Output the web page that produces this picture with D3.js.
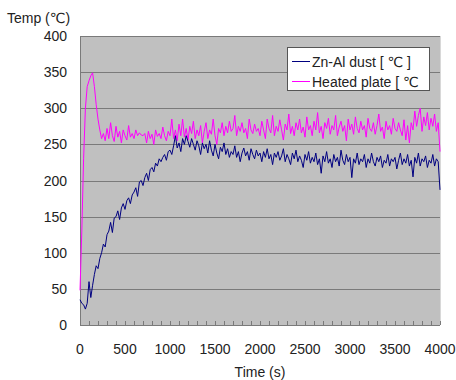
<!DOCTYPE html>
<html>
<head>
<meta charset="utf-8">
<script src="https://cdn.jsdelivr.net/npm/d3@7"></script>
<style>
  body { margin: 0; background: #fff; }
  text { font-family: "Liberation Sans", Arial, "DejaVu Sans", sans-serif; fill: #222; }
</style>
</head>
<body>
<div id="chart"></div>
<script>
// sampled every 20 s from 0 to 4000 s
const heatedPlate = [48,130,230,300,330,338,345,349,330,305,285,270,258,265,255,272,258,280,262,254,
  275,260,268,252,270,262,256,276,260,265,258,270,262,266,263,262,265,252,268,258,
  264,250,270,261,265,258,274,262,255,268,262,285,258,270,255,278,262,285,260,272,
  256,275,265,282,258,270,262,276,252,268,280,258,270,264,285,262,250,272,266,280,
  262,275,266,282,268,272,290,262,275,268,280,266,272,258,285,270,265,278,268,272,
  262,282,270,258,285,272,266,290,262,275,268,284,270,256,278,270,292,265,275,262,
  280,270,285,266,274,260,288,270,276,262,282,270,294,266,275,258,280,272,286,264,
  276,270,290,262,274,282,268,276,255,285,270,278,264,288,272,266,282,270,276,260,
  286,272,268,280,264,276,292,268,274,258,282,270,276,264,286,272,268,280,270,262,
  284,256,276,252,280,270,296,275,290,300,268,288,276,294,270,286,275,292,268,280,240]

const znAlDust = [35,30,28,22,30,60,38,55,70,82,78,92,100,112,108,125,130,142,128,148,
  150,158,146,162,168,160,172,176,168,180,184,190,178,198,200,193,204,210,200,215,
  218,212,224,220,230,226,232,236,228,240,242,236,248,262,245,252,240,258,250,262,
  254,246,258,250,242,255,248,236,252,244,250,238,255,242,234,250,238,230,246,240,
  252,236,244,232,240,236,248,232,240,226,238,245,234,240,228,244,236,230,242,234,
  238,226,240,232,244,230,236,222,238,232,240,228,234,244,226,236,230,222,238,230,
  242,226,234,228,218,236,228,240,224,232,226,238,222,230,210,234,226,240,224,230,
  218,236,226,232,220,242,228,222,236,226,232,204,230,224,238,222,230,226,236,218,
  230,224,238,226,220,232,226,234,218,228,224,236,220,230,226,232,216,228,238,222,
  230,224,236,220,228,205,232,224,238,220,230,226,234,218,228,224,236,220,230,226,187]

const xTicks = [0, 500, 1000, 1500, 2000, 2500, 3000, 3500, 4000]
const yTicks = [0, 50, 100, 150, 200, 250, 300, 350, 400]

const seriesNames = ["Zn-Al dust [ ℃ ]", "Heated plate [ ℃"]
const seriesColors = ["#000080", "#ff00ff"]

const width = 456
const height = 380
const plot = { left: 80, right: 440, top: 36, bottom: 325 }

const svg = d3.select("#chart").append("svg")
    .attr("width", width)
    .attr("height", height)

const x = d3.scaleLinear().domain([0, 4000]).range([plot.left, plot.right])
const y = d3.scaleLinear().domain([0, 400]).range([plot.bottom, plot.top])

// plot area
svg.append("rect")
    .attr("x", plot.left)
    .attr("y", plot.top)
    .attr("width", plot.right - plot.left)
    .attr("height", plot.bottom - plot.top)
    .attr("fill", "#c0c0c0")

svg.append("line")
    .attr("x1", plot.right + 0.5).attr("x2", plot.right + 0.5)
    .attr("y1", plot.top).attr("y2", plot.bottom)
    .attr("stroke", "#d8d8d8")

// gridlines
svg.append("g")
  .selectAll("line")
  .data(yTicks.filter(d => d > 0))
  .join("line")
    .attr("x1", plot.left)
    .attr("x2", plot.right)
    .attr("y1", d => Math.round(y(d)) + 0.5)
    .attr("y2", d => Math.round(y(d)) + 0.5)
    .attr("stroke", "#7a7a7a")

// axes lines
svg.append("line")
    .attr("x1", plot.left + 0.5).attr("x2", plot.left + 0.5)
    .attr("y1", plot.top).attr("y2", plot.bottom)
    .attr("stroke", "#7a7a7a")
svg.append("line")
    .attr("x1", plot.left).attr("x2", plot.right)
    .attr("y1", plot.bottom + 0.5).attr("y2", plot.bottom + 0.5)
    .attr("stroke", "#7a7a7a")

// minor ticks every 100 s
svg.append("g")
  .selectAll("line")
  .data(d3.range(0, 4001, 100))
  .join("line")
    .attr("x1", d => Math.round(x(d)) + 0.5)
    .attr("x2", d => Math.round(x(d)) + 0.5)
    .attr("y1", plot.bottom)
    .attr("y2", plot.bottom - 4)
    .attr("stroke", "#7a7a7a")

// tick labels
svg.append("g")
  .selectAll("text")
  .data(yTicks)
  .join("text")
    .attr("x", 67)
    .attr("y", d => y(d) + 5)
    .attr("text-anchor", "end")
    .style("font-size", "14px")
    .text(d => d)

svg.append("g")
  .selectAll("text")
  .data(xTicks)
  .join("text")
    .attr("x", d => x(d))
    .attr("y", 354)
    .attr("text-anchor", "middle")
    .style("font-size", "14px")
    .text(d => d)

svg.append("text")
    .attr("x", (plot.left + plot.right) / 2)
    .attr("y", 377)
    .attr("text-anchor", "middle")
    .style("font-size", "14px")
    .text("Time (s)")

svg.append("text")
    .attr("x", 7)
    .attr("y", 23)
    .style("font-size", "14px")
    .text("Temp (℃)")

// series
const line = d3.line()
    .x((d, i, arr) => x(i * 4000 / (arr.length - 1)))
    .y(d => y(d))

svg.append("path")
    .datum(heatedPlate)
    .attr("d", line)
    .attr("fill", "none")
    .attr("stroke", seriesColors[1])
    .attr("stroke-width", 1)

svg.append("path")
    .datum(znAlDust)
    .attr("d", line)
    .attr("fill", "none")
    .attr("stroke", seriesColors[0])
    .attr("stroke-width", 1)

// legend
const legend = { x: 287, y: 47, w: 142, h: 43 }
svg.append("defs").append("clipPath")
    .attr("id", "legend-clip")
  .append("rect")
    .attr("x", legend.x).attr("y", legend.y)
    .attr("width", legend.w).attr("height", legend.h)

const legendGroup = svg.append("g")
legendGroup.append("rect")
    .attr("x", legend.x + 0.5).attr("y", legend.y + 0.5)
    .attr("width", legend.w).attr("height", legend.h)
    .attr("fill", "#fff")
    .attr("stroke", "#555")

const items = legendGroup.append("g")
    .attr("clip-path", "url(#legend-clip)")
  .selectAll("g")
  .data(seriesNames)
  .join("g")
    .attr("transform", (d, i) => `translate(${legend.x}, ${legend.y + 14 + i * 20})`)

items.append("line")
    .attr("x1", 5).attr("x2", 23)
    .attr("y1", 0.5).attr("y2", 0.5)
    .attr("stroke", (d, i) => seriesColors[i])

items.append("text")
    .attr("x", 25)
    .attr("y", 6)
    .style("font-size", "14px")
    .text(d => d)
</script>
</body>
</html>
